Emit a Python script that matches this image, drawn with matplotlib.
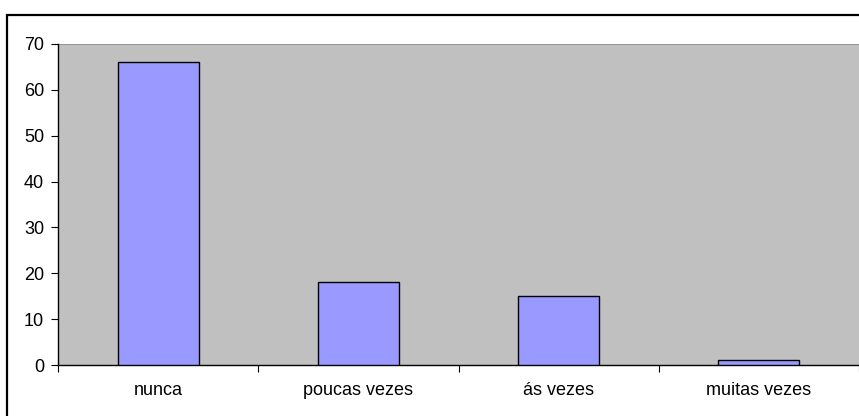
import matplotlib
matplotlib.use("Agg")
import matplotlib.pyplot as plt
from matplotlib.patches import Rectangle

# ---------- DATA ----------
categories = ["nunca", "poucas vezes", "ás vezes", "muitas vezes"]
values = [66, 18, 15, 1]
y_ticks = [0, 10, 20, 30, 40, 50, 60, 70]
# --------------------------

plt.rcParams['font.family'] = ['Liberation Sans', 'DejaVu Sans']

W, H = 859, 416
fig = plt.figure(figsize=(W / 100, H / 100), dpi=100)
fig.patch.set_facecolor("white")

# outer chart border (cropped on right and bottom)
fig.patches.append(Rectangle((7 / W, -0.05), 1.2, 1 - 15 / H + 0.05,
                             transform=fig.transFigure, fill=False,
                             edgecolor="black", linewidth=1.6, zorder=0))

ax = fig.add_axes([58 / W, 1 - 365 / H, 1 - 58 / W, (365 - 44) / H])
ax.set_facecolor("#C0C0C0")

x = list(range(len(categories)))
ax.bar(x, values, width=0.405, color="#9999FF", edgecolor="black",
       linewidth=1.0, zorder=3)

ax.set_xlim(-0.5, len(categories) - 0.5)
ax.set_ylim(0, 70)
ax.set_yticks(y_ticks)
ax.set_yticklabels([str(v) for v in y_ticks], fontsize=13)

# category labels centred, ticks between categories
ax.set_xticks(x)
ax.set_xticklabels(categories, fontsize=13)
ax.tick_params(axis="x", length=0, pad=12)
ax.set_xticks([i + 0.5 for i in range(-1, len(categories))], minor=True)
ax.tick_params(axis="x", which="minor", length=5, width=0.8, color="black")
ax.tick_params(axis="y", length=5, width=0.8, pad=5)

for side in ["top", "right"]:
    ax.spines[side].set_visible(False)
ax.spines["left"].set_linewidth(1.0)
ax.spines["bottom"].set_linewidth(1.0)
ax.axhline(70, color="#8C8C8C", linewidth=1.2, zorder=2)

plt.savefig("out.png", dpi=100)
plt.close(fig)
